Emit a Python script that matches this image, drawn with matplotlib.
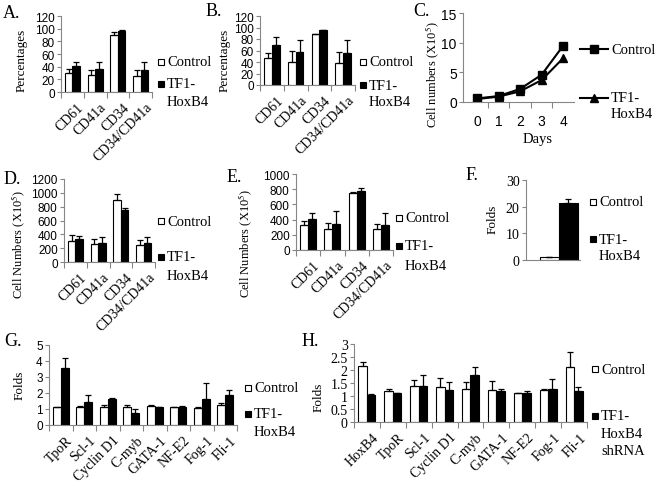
import numpy as np
import matplotlib.pyplot as plt
from matplotlib.patches import Rectangle
from matplotlib.lines import Line2D
from matplotlib.ticker import FuncFormatter

W, H = 657, 489
plt.rcParams['font.family'] = 'Liberation Serif'
plt.rcParams['mathtext.fontset'] = 'stix'

# --- data ---
surface = ['CD61', 'CD41a', 'CD34', 'CD34/CD41a']

a_ctrl = [30, 27, 90, 25]
a_ctrl_err = [7, 8, 5, 9]
a_tf1 = [41, 36, 97, 35]
a_tf1_err = [6, 12, 1, 13]

b_ctrl = [47, 40, 88, 38]
b_ctrl_err = [8, 19, 1, 19]
b_tf1 = [69, 57, 95, 56]
b_tf1_err = [14, 22, 0.5, 22]

days = [0, 1, 2, 3, 4]
c_ctrl = [0.6, 1.0, 2.2, 4.6, 9.5]
c_tf1 = [0.5, 0.9, 1.8, 3.7, 7.4]

d_ctrl = [298, 259, 893, 250]
d_ctrl_err = [86, 77, 86, 67]
d_tf1 = [326, 269, 758, 269]
d_tf1_err = [44, 86, 20, 86]

e_ctrl = [326, 273, 744, 273]
e_ctrl_err = [57, 88, 22, 75]
e_tf1 = [405, 339, 780, 326]
e_tf1_err = [80, 176, 35, 159]

f_ctrl = [1.0]
f_ctrl_err = [0.3]
f_tf1 = [21.2]
f_tf1_err = [1.7]

g_genes = ['TpoR', 'Scl-1', 'Cyclin D1', 'C-myb', 'GATA-1', 'NF-E2', 'Fog-1', 'Fli-1']
g_ctrl = [1.1, 1.1, 1.15, 1.1, 1.2, 1.1, 1.05, 1.25]
g_ctrl_err = [0.03, 0.1, 0.1, 0.15, 0.05, 0.05, 0.07, 0.1]
g_tf1 = [3.54, 1.45, 1.6, 0.75, 1.1, 1.1, 1.65, 1.9]
g_tf1_err = [0.66, 0.4, 0.1, 0.25, 0.02, 0.08, 0.95, 0.3]

h_genes = ['HoxB4', 'TpoR', 'Scl-1', 'Cyclin D1', 'C-myb', 'GATA-1', 'NF-E2', 'Fog-1', 'Fli-1']
h_ctrl = [2.15, 1.2, 1.38, 1.33, 1.27, 1.25, 1.1, 1.22, 2.1]
h_ctrl_err = [0.17, 0.07, 0.22, 0.37, 0.26, 0.32, 0.02, 0.05, 0.58]
h_tf1 = [1.05, 1.1, 1.38, 1.25, 1.82, 1.2, 1.12, 1.28, 1.2]
h_tf1_err = [0.02, 0.01, 0.44, 0.28, 0.28, 0.07, 0.08, 0.39, 0.15]

GRAY = '#868686'
fig = plt.figure(figsize=(W / 100, H / 100), dpi=100)


def add_ax(left, top, right, bottom):
    return fig.add_axes([left / W, 1 - bottom / H, (right - left) / W, (bottom - top) / H])


def style_axes(ax, ytick_font='Liberation Sans', ysize=8.5):
    for s in ['top', 'right']:
        ax.spines[s].set_visible(False)
    for s in ['left', 'bottom']:
        ax.spines[s].set_color(GRAY)
        ax.spines[s].set_linewidth(0.8)
    ax.tick_params(axis='y', length=3, width=0.8, color=GRAY, pad=1.5, labelsize=ysize)
    for t in ax.get_yticklabels():
        t.set_fontfamily(ytick_font)
    ax.yaxis.set_major_formatter(FuncFormatter(lambda v, p: '%g' % v))


def bar_panel(box, cats, ctrl, ctrl_err, tf1, tf1_err, ylim, yticks, xsize=10,
              ytick_font='Liberation Sans', ysize=8.5):
    ax = add_ax(*box)
    x = np.arange(len(cats))
    w = 0.33
    ekw = dict(ecolor='black', elinewidth=0.9, capsize=2.2, capthick=0.9)
    ax.bar(x - w / 2, ctrl, w, color='white', edgecolor='black', linewidth=0.8,
           yerr=[np.zeros(len(x)), ctrl_err], error_kw=ekw)
    ax.bar(x + w / 2, tf1, w, color='black', edgecolor='black', linewidth=0.8,
           yerr=[np.zeros(len(x)), tf1_err], error_kw=ekw)
    ax.set_xlim(-0.5, len(cats) - 0.5)
    ax.set_ylim(*ylim)
    ax.set_yticks(yticks)
    ax.set_xticks(x + 0.2)
    ax.set_xticklabels(cats, rotation=45, ha='right', rotation_mode='anchor', fontsize=xsize)
    ax.set_xticks(np.arange(-0.5, len(cats)), minor=True)
    ax.tick_params(axis='x', which='major', length=0, pad=6)
    ax.tick_params(axis='x', which='minor', length=4, width=0.8, color=GRAY, direction='out')
    style_axes(ax, ytick_font, ysize)
    return ax


def ftext(x, y, s, **kw):
    kw.setdefault('fontsize', 10.5)
    kw.setdefault('va', 'center')
    return fig.text(x / W, 1 - y / H, s, **kw)


def square(x, y, face):
    fig.add_artist(Rectangle((x / W, 1 - (y + 3) / H), 6 / W, 6 / H, transform=fig.transFigure,
                             facecolor=face, edgecolor='black', linewidth=0.8))


def bar_legend(x, y_ctrl, tf_lines):
    square(x, y_ctrl, 'white')
    ftext(x + 9, y_ctrl, 'Control')
    square(x, tf_lines[0][1], 'black')
    for s, y in tf_lines:
        ftext(x + 9, y, s)


# A
bar_panel((61, 17, 152, 93), surface, a_ctrl, a_ctrl_err, a_tf1, a_tf1_err, (0, 120), range(0, 121, 20))
ftext(3, 14, 'A.', fontsize=13)
ftext(22, 60, 'Percentages', rotation=90, ha='center', fontsize=9.5)
bar_legend(158, 63, [('TF1-', 85), ('HoxB4', 102)])

# B
bar_panel((260, 17, 355, 86), surface, b_ctrl, b_ctrl_err, b_tf1, b_tf1_err, (0, 120), range(0, 121, 20))
ftext(206, 12, 'B.', fontsize=13)
ftext(225, 60, 'Percentages', rotation=90, ha='center', fontsize=9.5)
bar_legend(360, 63, [('TF1-', 86), ('HoxB4', 102)])

# C
axc = add_ax(463, 14, 574, 103)
axc.plot(days, c_ctrl, color='black', lw=1.5, marker='s', ms=5.5)
axc.plot(days, c_tf1, color='black', lw=1.5, marker='^', ms=6)
axc.set_xlim(-0.65, 4.5)
axc.set_ylim(0, 15)
axc.set_yticks([0, 5, 10, 15])
axc.set_xticks(days)
axc.set_xticks([0.5, 1.5, 2.5, 3.5], minor=True)
axc.tick_params(axis='x', which='major', length=0, pad=9, labelsize=10)
axc.tick_params(axis='x', which='minor', length=4, width=0.8, color=GRAY, direction='out')
style_axes(axc, ysize=10)
for t in axc.get_xticklabels():
    t.set_fontfamily('Liberation Sans')
ftext(413, 12, 'C.', fontsize=13)
ftext(433, 75, 'Cell numbers (X10$^{5}$)', rotation=90, ha='center', fontsize=9)
ftext(538, 139, 'Days', ha='center')
for y, mk, ms in [(50, 's', 5.5), (99, '^', 6)]:
    fig.add_artist(Line2D([580 / W, 608 / W], [1 - y / H] * 2, color='black', lw=1.5,
                          transform=fig.transFigure))
    fig.add_artist(Line2D([594 / W], [1 - y / H], color='black', marker=mk, ms=ms,
                          transform=fig.transFigure))
ftext(611, 50, 'Control')
ftext(611, 99, 'TF1-')
ftext(611, 115, 'HoxB4')

# D
bar_panel((64, 180, 155, 263), surface, d_ctrl, d_ctrl_err, d_tf1, d_tf1_err, (0, 1200), range(0, 1201, 200))
ftext(4, 180, 'D.', fontsize=13)
ftext(19, 244, 'Cell Numbers (X10$^{5}$)', rotation=90, ha='center', fontsize=9)
bar_legend(158, 222, [('TF1-', 258), ('HoxB4', 277)])

# E
bar_panel((296, 175, 393, 251), surface, e_ctrl, e_ctrl_err, e_tf1, e_tf1_err, (0, 1000), range(0, 1001, 200))
ftext(227, 178, 'E.', fontsize=13)
ftext(246, 243, 'Cell Numbers (X10$^{5}$)', rotation=90, ha='center', fontsize=9)
bar_legend(396, 219, [('TF1-', 247), ('HoxB4', 266)])

# F
axf = add_ax(526, 181, 580, 261)
axf.bar([0.26], f_ctrl, 0.35, align='edge', color='white', edgecolor='black', linewidth=0.8)
axf.bar([0.61], f_tf1, 0.35, align='edge', color='black', edgecolor='black', linewidth=0.8)
ekw = dict(fmt='none', ecolor='black', elinewidth=0.9, capsize=2.2, capthick=0.9)
axf.errorbar([0.435], f_ctrl, yerr=[[0], f_ctrl_err], **ekw)
axf.errorbar([0.785], f_tf1, yerr=[[0], f_tf1_err], **ekw)
axf.set_xlim(0, 1)
axf.set_ylim(0, 30)
axf.set_yticks([0, 10, 20, 30])
axf.set_xticks([])
style_axes(axf, ytick_font='Liberation Serif', ysize=10)
ftext(466, 175, 'F.', fontsize=13)
ftext(493, 219, 'Folds', rotation=90, ha='center', fontsize=9.5)
bar_legend(590, 203, [('TF1-', 240), ('HoxB4', 257)])

# G
bar_panel((49, 346, 237, 426), g_genes, g_ctrl, g_ctrl_err, g_tf1, g_tf1_err, (0, 5), range(0, 6))
ftext(4, 342, 'G.', fontsize=13)
ftext(20, 385, 'Folds', rotation=90, ha='center', fontsize=9.5)
bar_legend(245, 389, [('TF1-', 415), ('HoxB4', 433)])

# H
bar_panel((354, 345, 587, 423), h_genes, h_ctrl, h_ctrl_err, h_tf1, h_tf1_err, (0, 3),
          np.arange(0, 3.01, 0.5), ytick_font='Liberation Serif', ysize=10)
ftext(302, 342, 'H.', fontsize=13)
ftext(319, 397, 'Folds', rotation=90, ha='center', fontsize=9.5)
bar_legend(592, 370, [('TF1-', 417), ('HoxB4', 435), ('shRNA', 452)])

fig.savefig('out.png', dpi=100)
